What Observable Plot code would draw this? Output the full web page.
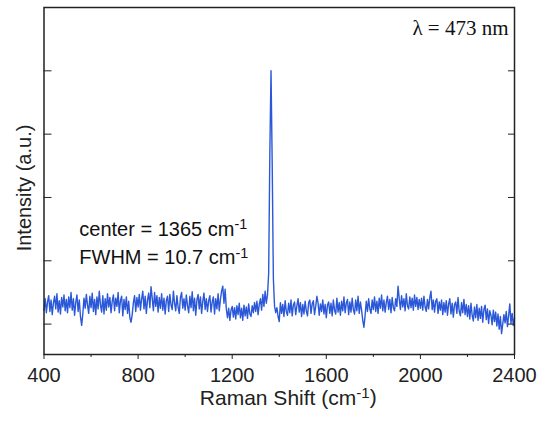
<!DOCTYPE html>
<html><head><meta charset="utf-8">
<script src="https://cdn.jsdelivr.net/npm/d3@7"></script>
<script src="https://cdn.jsdelivr.net/npm/@observablehq/plot@0.6"></script>
<style>body{margin:0;background:#fff} #chart svg{display:block}</style>
</head><body><div id="chart"></div>
<script>
// Raman spectrum sampled every 5 cm^-1 from 400 to 2400 cm^-1
const shiftStart = 400;
const shiftStep = 5;
const intensity = [
  // 400-495
  0.22,0.40,0.18,0.35,0.45,0.20,0.38,0.15,0.33,0.44,0.24,0.48,0.19,0.37,0.16,0.42,0.27,0.46,0.21,0.39,
  // 500-595
  0.18,0.43,0.26,0.50,0.22,0.40,0.14,0.34,0.46,0.20,0.38,0.12,-0.02,0.16,0.41,0.25,0.47,0.30,0.17,0.44,
  // 600-695
  0.26,0.49,0.20,0.39,0.15,0.43,0.24,0.52,0.30,0.19,0.45,0.16,0.40,0.22,0.48,0.27,0.42,0.18,0.36,0.46,
  // 700-795
  0.21,0.41,0.28,0.50,0.18,0.37,0.44,0.13,0.39,0.23,0.43,0.17,0.36,0.10,0.03,0.15,0.34,0.45,0.20,0.42,
  // 800-895
  0.27,0.47,0.22,0.40,0.52,0.24,0.44,0.17,0.38,0.49,0.26,0.59,0.41,0.21,0.50,0.28,0.45,0.19,0.42,0.25,
  // 900-995
  0.48,0.22,0.41,0.16,0.37,0.44,0.20,0.47,0.30,0.23,0.52,0.33,0.21,0.45,0.27,0.17,0.42,0.50,0.25,0.40,
  // 1000-1095
  0.22,0.46,0.29,0.18,0.44,0.26,0.51,0.21,0.41,0.14,0.38,0.47,0.24,0.43,0.17,0.36,0.49,0.23,0.40,0.20,
  // 1100-1195
  0.37,0.45,0.19,0.35,0.43,0.16,0.40,0.24,0.48,0.21,0.39,0.52,0.60,0.33,0.55,0.24,0.10,0.25,0.06,0.22,
  // 1200-1295
  0.28,0.11,0.26,0.08,0.29,0.15,0.33,0.10,0.25,0.06,0.30,0.13,0.27,0.09,0.32,0.16,0.12,0.29,0.18,0.34,
  // 1300-1395
  0.20,0.36,0.15,0.31,0.40,0.22,0.47,0.28,0.52,0.33,0.46,0.80,2.70,4.00,2.55,0.72,0.28,0.18,0.26,0.12,
  // 1400-1495
  0.04,0.34,0.17,0.31,0.12,0.37,0.20,0.14,0.33,0.18,0.38,0.13,0.30,0.35,0.15,0.29,0.40,0.19,0.34,0.12,
  // 1500-1595
  0.31,0.16,0.36,0.21,0.13,0.34,0.38,0.17,0.32,0.37,0.15,0.28,0.44,0.33,0.14,0.32,0.20,0.38,0.16,0.31,
  // 1600-1695
  0.10,0.30,0.35,0.17,0.33,0.13,0.38,0.22,0.16,0.41,0.19,0.34,0.14,0.36,0.21,0.43,0.18,0.33,0.39,0.15,
  // 1700-1795
  0.35,0.19,0.41,0.23,0.16,0.38,0.21,0.44,0.17,0.35,0.22,0.06,-0.05,0.14,0.36,0.20,0.40,0.24,0.17,0.38,
  // 1800-1895
  0.23,0.43,0.20,0.36,0.17,0.41,0.25,0.46,0.21,0.38,0.19,0.34,0.44,0.23,0.39,0.18,0.42,0.26,0.21,0.40,
  // 1900-1995
  0.28,0.60,0.40,0.23,0.45,0.27,0.40,0.21,0.48,0.29,0.24,0.43,0.26,0.41,0.22,0.46,0.28,0.42,0.23,0.39,
  // 2000-2095
  0.25,0.41,0.22,0.44,0.27,0.20,0.39,0.24,0.42,0.52,0.23,0.38,0.19,0.36,0.40,0.17,0.35,0.22,0.38,0.15,
  // 2100-2195
  0.34,0.19,0.37,0.14,0.32,0.40,0.16,0.33,0.11,0.31,0.35,0.17,0.42,0.20,0.13,0.34,0.18,0.39,0.15,0.31,
  // 2200-2295
  0.12,0.29,0.08,0.33,0.14,0.05,0.27,0.10,0.31,0.06,0.25,0.09,0.28,0.03,0.23,0.30,0.07,0.24,0.01,0.21,
  // 2300-2400
  0.14,-0.01,0.22,0.04,0.19,-0.03,0.16,-0.08,0.12,-0.15,0.00,0.15,0.02,0.20,-0.04,0.13,0.32,0.01,0.17,-0.02,0.10
];

const xTicks = [400, 800, 1200, 1600, 2000, 2400];
const xMinorTicks = [600, 1000, 1400, 1800, 2200];
const yTicks = [0, 1, 2, 3, 4];
const annotationX = [550, 550];
const annotationY = [1.50, 1.05];
const annotationText = ["center = 1365 cm-1", "FWHM = 10.7 cm-1"];
const wavelengthLabel = "λ = 473 nm";
const xLabel = "Raman Shift (cm-1)";
const yLabel = "Intensity (a.u.)";

const spectrum = intensity.map((v, i) => ({shift: shiftStart + i * shiftStep, intensity: v}));
const annotations = annotationText.map((t, i) => ({x: annotationX[i], y: annotationY[i], text: t}));

const plot = Plot.plot({
  width: 538,
  height: 421,
  marginLeft: 43.5,
  marginRight: 24,
  marginTop: 7,
  marginBottom: 67,
  style: {fontFamily: "'Liberation Sans', Arial, sans-serif", fontSize: "20px", color: "#222", background: "#fff"},
  x: {domain: [400, 2400]},
  y: {domain: [-0.48, 5.0]},
  marks: [
    Plot.line(spectrum, {x: "shift", y: "intensity", stroke: "#2b58d8", strokeWidth: 1.4}),
    Plot.frame({stroke: "#222", strokeWidth: 1.5}),
    Plot.axisX(xTicks, {anchor: "bottom", tickSize: 5, tickPadding: 8, tickFormat: d => String(d), fontSize: 20, label: null}),
    Plot.axisX(xMinorTicks, {anchor: "bottom", tickSize: 3, tickFormat: () => "", label: null}),
    Plot.axisY(yTicks, {anchor: "left", tickSize: -8, tickFormat: () => "", label: null}),
    Plot.axisY(yTicks, {anchor: "right", tickSize: -7, tickFormat: () => "", label: null}),
    Plot.text([xLabel], {frameAnchor: "bottom", dx: 9, dy: 50, fontSize: 21, fill: "#222"}),
    Plot.text([yLabel], {frameAnchor: "left", textAnchor: "middle", rotate: -90, dx: -19, dy: 7, fontSize: 20, fill: "#222"}),
    Plot.text(annotations, {x: "x", y: "y", text: "text", textAnchor: "start", fontSize: 20, fill: "#111"}),
    Plot.text([wavelengthLabel], {frameAnchor: "top-right", dx: -6, dy: 13, fontFamily: "'Liberation Serif', 'Times New Roman', serif", fontSize: 21, fill: "#111"})
  ]
});

// turn "cm-1" into cm with a superscript -1
plot.querySelectorAll("text").forEach(t => {
  const s = t.textContent;
  const m = s.match(/^(.*cm)-1(.*)$/);
  if (!m || t.querySelector("tspan")) return;
  t.textContent = "";
  const ns = "http://www.w3.org/2000/svg";
  const a = document.createElementNS(ns, "tspan"); a.textContent = m[1]; t.appendChild(a);
  const sup = document.createElementNS(ns, "tspan");
  sup.textContent = "-1"; sup.setAttribute("dy", "-0.45em"); sup.setAttribute("font-size", "0.72em");
  t.appendChild(sup);
  if (m[2]) {
    const b = document.createElementNS(ns, "tspan");
    b.textContent = m[2]; b.setAttribute("dy", "0.32em"); t.appendChild(b);
  }
});

document.getElementById("chart").appendChild(plot);
</script>
</body></html>
